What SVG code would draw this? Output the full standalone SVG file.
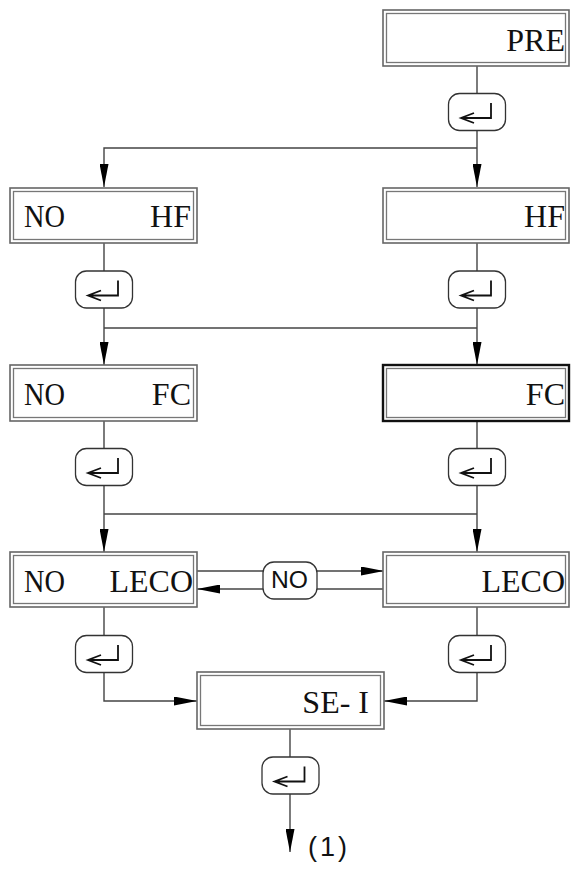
<svg xmlns="http://www.w3.org/2000/svg" width="573" height="870" viewBox="0 0 573 870">
<style>
.ob{fill:#fff;stroke:#666;stroke-width:1.6}
.ib{fill:none;stroke:#777;stroke-width:1.3}
.obk{fill:#fff;stroke:#111;stroke-width:2.4}
.t{font-family:"Liberation Serif","Times New Roman",serif;font-size:32px;fill:#111}
.btn{fill:#fff;stroke:#333;stroke-width:1.3}
.ic{fill:none;stroke:#111;stroke-width:1.8}
.ln{fill:none;stroke:#444;stroke-width:1.4}
.s{font-family:"Liberation Sans",Arial,sans-serif;fill:#111}
</style>
<defs>
<marker id="ah" markerUnits="userSpaceOnUse" markerWidth="23" markerHeight="9" refX="23" refY="4.5" orient="auto" viewBox="0 0 23 9">
<path d="M0,0 L23,4.5 L0,9 Z" fill="#000"/>
</marker>
<g id="enter">
<rect class="btn" x="-28.5" y="-18.5" width="57" height="37" rx="11"/>
<path class="ic" d="M14,-9 V6 H-16 M-3,1 L-16,6 L-3,11"/>
</g>
</defs>

<g id="connectors">
<path class="ln" d="M477,66 V94"/>
<path class="ln" d="M477,130 V187" marker-end="url(#ah)"/>
<path class="ln" d="M477,148 H104 V187" marker-end="url(#ah)"/>
<path class="ln" d="M104,243 V271"/>
<path class="ln" d="M477,243 V271"/>
<path class="ln" d="M104,308 V365" marker-end="url(#ah)"/>
<path class="ln" d="M477,308 V365" marker-end="url(#ah)"/>
<path class="ln" d="M104,328 H477"/>
<path class="ln" d="M104,421 V448"/>
<path class="ln" d="M477,421 V448"/>
<path class="ln" d="M104,486 V552" marker-end="url(#ah)"/>
<path class="ln" d="M477,486 V552" marker-end="url(#ah)"/>
<path class="ln" d="M104,514 H477"/>
<path class="ln" d="M197,571 H263"/>
<path class="ln" d="M317,571 H384" marker-end="url(#ah)"/>
<path class="ln" d="M384,589 H317"/>
<path class="ln" d="M263,589 H197" marker-end="url(#ah)"/>
<path class="ln" d="M104,607 V635"/>
<path class="ln" d="M477,607 V635"/>
<path class="ln" d="M104,673 V701 H197" marker-end="url(#ah)"/>
<path class="ln" d="M477,673 V701 H384" marker-end="url(#ah)"/>
<path class="ln" d="M290,729 V757"/>
<path class="ln" d="M290,794 V852" marker-end="url(#ah)"/>
</g>

<g id="n-pre">
<rect class="ob" x="383" y="10" width="186" height="56"/>
<rect class="ib" x="386.5" y="13.5" width="179" height="49"/>
<text class="t" x="565" y="51" text-anchor="end">PRE</text>
</g>
<g id="b-pre"><use href="#enter" x="477" y="112"/></g>

<g id="n-nohf">
<rect class="ob" x="10" y="188" width="187" height="55"/>
<rect class="ib" x="13.5" y="191.5" width="180" height="48"/>
<text class="t" x="24" y="227" textLength="41" lengthAdjust="spacingAndGlyphs">NO</text>
<text class="t" x="191" y="227" text-anchor="end">HF</text>
</g>
<g id="n-hf">
<rect class="ob" x="383" y="188" width="186" height="55"/>
<rect class="ib" x="386.5" y="191.5" width="179" height="48"/>
<text class="t" x="565" y="227" text-anchor="end">HF</text>
</g>
<g id="b-nohf"><use href="#enter" x="104" y="289.5"/></g>
<g id="b-hf"><use href="#enter" x="477" y="289.5"/></g>

<g id="n-nofc">
<rect class="ob" x="10" y="365" width="187" height="56"/>
<rect class="ib" x="13.5" y="368.5" width="180" height="49"/>
<text class="t" x="24" y="405" textLength="41" lengthAdjust="spacingAndGlyphs">NO</text>
<text class="t" x="191" y="405" text-anchor="end">FC</text>
</g>
<g id="n-fc">
<rect class="obk" x="383" y="365" width="186" height="56"/>
<rect class="ib" x="386.5" y="368.5" width="179" height="49"/>
<text class="t" x="565" y="405" text-anchor="end">FC</text>
</g>
<g id="b-nofc"><use href="#enter" x="104" y="467"/></g>
<g id="b-fc"><use href="#enter" x="477" y="467"/></g>

<g id="n-noleco">
<rect class="ob" x="10" y="552" width="187" height="55"/>
<rect class="ib" x="13.5" y="555.5" width="180" height="48"/>
<text class="t" x="24" y="592" textLength="41" lengthAdjust="spacingAndGlyphs">NO</text>
<text class="t" x="193" y="592" text-anchor="end">LECO</text>
</g>
<g id="b-no">
<rect class="btn" x="263" y="562" width="54" height="37" rx="11"/>
<text class="s" x="271" y="588" font-size="24" textLength="37" lengthAdjust="spacingAndGlyphs">NO</text>
</g>
<g id="n-leco">
<rect class="ob" x="383" y="552" width="186" height="55"/>
<rect class="ib" x="386.5" y="555.5" width="179" height="48"/>
<text class="t" x="565" y="592" text-anchor="end">LECO</text>
</g>
<g id="b-noleco"><use href="#enter" x="104" y="654"/></g>
<g id="b-leco"><use href="#enter" x="477" y="654"/></g>

<g id="n-sei">
<rect class="ob" x="197" y="672" width="187" height="57"/>
<rect class="ib" x="200.5" y="675.5" width="180" height="50"/>
<text class="t" x="369" y="713" text-anchor="end">SE- I</text>
</g>
<g id="b-sei"><use href="#enter" x="290.5" y="775.5"/></g>

<text class="s" x="308" y="856" font-size="27" letter-spacing="3">(1)</text>
</svg>
